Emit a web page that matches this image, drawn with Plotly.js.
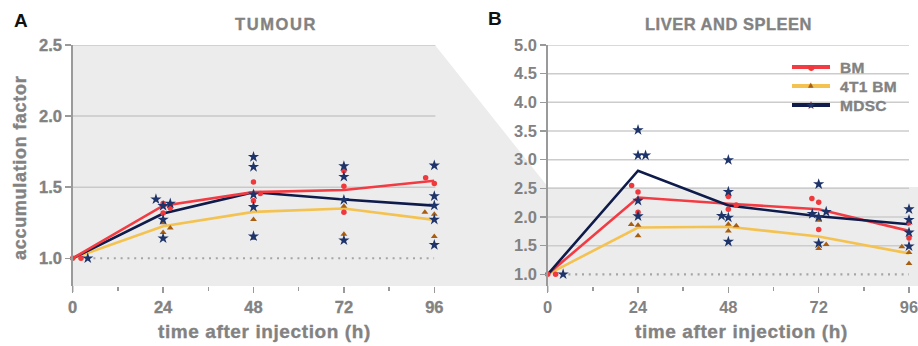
<!DOCTYPE html>
<html><head><meta charset="utf-8">
<script src="https://cdn.plot.ly/plotly-3.0.1.min.js"></script>
<style>
html,body{margin:0;padding:0;background:#fff}#chart{width:918px;height:346px}
#chart .xtick text, #chart .ytick text, #chart .xtick2 text, #chart .ytick2 text{stroke:#828282;stroke-width:0.35px}
</style>
</head><body><div id="chart"></div>
<script>
// ---------- data ----------
const hours = [0, 24, 48, 72, 96];
const xTickLabels = ['0', '24', '48', '72', '96'];
const minorHours = [12, 36, 60, 84];
const tumourYTicks = [1.0, 1.5, 2.0, 2.5];
const tumourGrid = [1.5, 2.0, 2.5];
const liverYTicks = [1.0, 1.5, 2.0, 2.5, 3.0, 3.5, 4.0, 4.5, 5.0];
const liverGrid = [1.5, 2.0, 2.5, 3.0, 3.5, 4.0, 4.5, 5.0];
const seriesNames = ['BM', '4T1 BM', 'MDSC'];

// Panel A - tumour, mean lines
const tumourMeanBM   = [1.0, 1.37, 1.465, 1.48, 1.545];
const tumourMean4T1  = [1.0, 1.225, 1.326, 1.35, 1.27];
const tumourMeanMDSC = [1.0, 1.315, 1.465, 1.413, 1.37];

// Panel A - individual points
const tumourBMx   = [0, 2.2, 24, 25.9, 24, 48, 48, 49.8, 72, 72, 72, 93.7, 96];
const tumourBMy   = [1.0, 1.0, 1.385, 1.354, 1.319, 1.537, 1.404, 1.455, 1.615, 1.507, 1.324, 1.566, 1.526];
const tumour4T1x  = [24, 24, 25.9, 48, 48, 72, 72, 93.5, 96, 96];
const tumour4T1y  = [1.249, 1.181, 1.213, 1.272, 1.139, 1.366, 1.169, 1.324, 1.31, 1.153];
const tumourMDSCx = [4, 22.1, 24, 25.9, 24, 24, 48, 48, 48, 48, 48, 72, 72, 72, 72, 96, 96, 96, 96, 96];
const tumourMDSCy = [1.0, 1.415, 1.368, 1.385, 1.272, 1.141, 1.713, 1.643, 1.449, 1.361, 1.155, 1.648, 1.573, 1.411, 1.127, 1.653, 1.437, 1.371, 1.272, 1.094];

// Panel B - liver and spleen, mean lines
const liverMeanBM   = [1.0, 2.34, 2.23, 2.136, 1.757];
const liverMean4T1  = [1.0, 1.816, 1.83, 1.66, 1.365];
const liverMeanMDSC = [1.0, 2.806, 2.2, 2.014, 1.874];

// Panel B - individual points
const liverBMx   = [0, 2.1, 22.3, 24, 24, 48, 48, 50.1, 70.2, 72, 72, 96, 96];
const liverBMy   = [1.0, 1.0, 2.55, 2.434, 2.084, 2.358, 2.136, 2.21, 2.323, 2.259, 1.78, 1.90, 1.635];
const liver4T1x  = [22.2, 24, 24, 48, 48, 50.1, 72, 72, 74, 94.1, 96, 96];
const liver4T1y  = [1.868, 1.857, 1.674, 1.874, 1.756, 1.845, 1.944, 1.45, 1.52, 1.48, 1.38, 1.19];
const liverMDSCx = [4.1, 24, 24, 26, 24, 24, 48, 48, 46.2, 48, 48, 72, 70.3, 72, 74, 72, 96, 96, 96, 96];
const liverMDSCy = [1.0, 3.517, 3.075, 3.075, 2.284, 2.014, 2.993, 2.44, 2.02, 1.99, 1.57, 2.573, 2.054, 2.0, 2.09, 1.54, 2.136, 1.95, 1.73, 1.49];

// ---------- styling ----------
const FONT = 'Liberation Sans, Arial, sans-serif';
const GREY_TXT = '#828282';
const AX = '#9a9a9a';
const RED = '#f23b43', RED_PT = '#f0393c';
const YEL = '#f4c250', YEL_PT = '#a85e10';
const NAV = '#0f1c4b', NAV_PT = '#1d3369';
const W = 918, H = 346;
const px = x => x / W, py = y => (H - y) / H;
const bold = s => '<b>' + s + '</b>';
const heavy = (s, ls) => '<b><span style="letter-spacing:' + ls + 'px;stroke:' + GREY_TXT + ';stroke-width:0.35px">' + s + '</span></b>';

const lineStyles = [
  {color: RED, width: 2.6},
  {color: YEL, width: 2.6},
  {color: NAV, width: 2.6}
];
const markerStyles = [
  {symbol: 'circle', size: 5.5, color: RED_PT},
  {symbol: 'triangle-up', size: 6, color: YEL_PT},
  {symbol: 'star', size: 8.5, color: NAV_PT}
];

function meanTrace(y, i, xa, ya) {
  return {x: hours, y: y, type: 'scatter', mode: 'lines', line: lineStyles[i], name: seriesNames[i],
    xaxis: xa, yaxis: ya, showlegend: false, hoverinfo: 'skip', cliponaxis: false};
}
function pointTrace(x, y, i, xa, ya) {
  return {x: x, y: y, type: 'scatter', mode: 'markers', marker: markerStyles[i], name: seriesNames[i],
    xaxis: xa, yaxis: ya, showlegend: false, hoverinfo: 'skip', cliponaxis: false};
}

const data = [
  meanTrace(tumourMean4T1, 1, 'x', 'y'),
  meanTrace(tumourMeanMDSC, 2, 'x', 'y'),
  meanTrace(tumourMeanBM, 0, 'x', 'y'),
  pointTrace(tumour4T1x, tumour4T1y, 1, 'x', 'y'),
  pointTrace(tumourBMx, tumourBMy, 0, 'x', 'y'),
  pointTrace(tumourMDSCx, tumourMDSCy, 2, 'x', 'y'),
  meanTrace(liverMean4T1, 1, 'x2', 'y2'),
  meanTrace(liverMeanBM, 0, 'x2', 'y2'),
  meanTrace(liverMeanMDSC, 2, 'x2', 'y2'),
  pointTrace(liver4T1x, liver4T1y, 1, 'x2', 'y2'),
  pointTrace(liverBMx, liverBMy, 0, 'x2', 'y2'),
  pointTrace(liverMDSCx, liverMDSCy, 2, 'x2', 'y2')
];

const tickFont = {family: FONT, size: 16.5, color: GREY_TXT};
function xAxis(domain, yanchor) {
  return {domain: domain, range: [0, 96], anchor: yanchor, tickmode: 'array', tickvals: hours, ticktext: xTickLabels.map(bold),
    ticks: 'outside', ticklen: 6, tickwidth: 1.5, tickcolor: AX, showline: false, showgrid: false, zeroline: false,
    minor: {tickmode: 'array', tickvals: minorHours, ticks: 'outside', ticklen: 4, tickwidth: 1.5, tickcolor: AX, showgrid: false},
    tickfont: tickFont, ticklabeloverflow: 'allow', fixedrange: true};
}
function yAxis(range, ticks, xanchor) {
  return {domain: [60 / H, 301 / H], range: range, anchor: xanchor, tickmode: 'array', tickvals: ticks,
    ticktext: ticks.map(v => bold(v.toFixed(1))), ticks: 'outside', ticklen: 6, tickwidth: 1.5, tickcolor: AX,
    showline: true, linecolor: AX, linewidth: 1.5, showgrid: false, zeroline: false,
    tickfont: tickFont, ticklabeloverflow: 'allow', fixedrange: true};
}

const shapes = [];
// shaded zoom region
shapes.push({type: 'path', xref: 'paper', yref: 'paper', layer: 'below', line: {width: 0}, fillcolor: '#ececec',
  path: `M ${px(72.7)},${py(45)} L ${px(435)},${py(45)} L ${px(548)},${py(187)} L ${px(918)},${py(187)} L ${px(918)},${py(286)} L ${px(72.7)},${py(286)} Z`});
tumourGrid.forEach(v => shapes.push({type: 'line', xref: 'x domain', yref: 'y', x0: 0, x1: 1.003, y0: v, y1: v, layer: 'below', line: {color: '#c9c9c9', width: 1.5}}));
liverGrid.forEach(v => shapes.push({type: 'line', xref: 'x2 domain', yref: 'y2', x0: 0, x1: 1, y0: v, y1: v, layer: 'below', line: {color: '#cccccc', width: 1.5}}));
// dotted reference line at 1.0
shapes.push({type: 'line', xref: 'x', yref: 'y', x0: 5.5, x1: 96, y0: 1, y1: 1, layer: 'below', line: {color: '#a5a5a5', width: 2.2, dash: '2px,4.8px'}});
shapes.push({type: 'line', xref: 'x2', yref: 'y2', x0: 5.5, x1: 96, y0: 1, y1: 1, layer: 'below', line: {color: '#a5a5a5', width: 2.2, dash: '2px,4.8px'}});
// y-axis line extension below the plot
shapes.push({type: 'line', xref: 'paper', yref: 'paper', x0: px(72.7), x1: px(72.7), y0: py(286), y1: py(292), line: {color: AX, width: 1.5}});
shapes.push({type: 'line', xref: 'paper', yref: 'paper', x0: px(547.7), x1: px(547.7), y0: py(286), y1: py(292), line: {color: AX, width: 1.5}});

const ann = (text, x, y, size, color, extra) => Object.assign({text: text, xref: 'paper', yref: 'paper', x: px(x), y: py(y),
  xanchor: 'center', yanchor: 'middle', showarrow: false, font: {family: FONT, size: size, color: color}}, extra || {});

const annotations = [
  ann(bold('A'), 20.5, 20.5, 19, '#111111'),
  ann(bold('B'), 495, 19, 19, '#111111'),
  ann(heavy('TUMOUR', 1.6), 276, 24, 16.5, GREY_TXT),
  ann(heavy('LIVER AND SPLEEN', 0.5), 728, 24, 16.5, GREY_TXT),
  ann(heavy('accumulation factor', 0.7), 20, 168, 18, GREY_TXT, {textangle: -90}),
  ann(heavy('time after injection (h)', 0.6), 264, 331, 19, GREY_TXT),
  ann(heavy('time after injection (h)', 0.6), 741, 331, 19, GREY_TXT)
];

// manual legend (line segment + symbol + label)
const legendRows = [67, 86, 105];
const legendGlyphs = ['●', '▲', '★'];
const legendGlyphSize = [8, 7, 11];
const legendGlyphColor = [RED_PT, YEL_PT, NAV_PT];
seriesNames.forEach((name, i) => {
  const yy = legendRows[i];
  shapes.push({type: 'line', xref: 'paper', yref: 'paper', x0: px(792), x1: px(830), y0: py(yy), y1: py(yy),
    line: {color: lineStyles[i].color, width: 4}});
  annotations.push({text: legendGlyphs[i], xref: 'paper', yref: 'paper', x: px(811), y: py(yy + (i === 1 ? -1 : 0)),
    xanchor: 'center', yanchor: 'middle', showarrow: false,
    font: {family: 'DejaVu Sans, sans-serif', size: legendGlyphSize[i], color: legendGlyphColor[i]}});
  annotations.push({text: heavy(name, 0.3), xref: 'paper', yref: 'paper', x: px(838), y: py(yy), xanchor: 'left', yanchor: 'middle',
    showarrow: false, font: {family: FONT, size: 15.5, color: GREY_TXT}});
});

const layout = {
  width: W, height: H, margin: {l: 0, r: 0, t: 0, b: 0},
  paper_bgcolor: '#ffffff', plot_bgcolor: 'rgba(0,0,0,0)',
  showlegend: false,
  xaxis: xAxis([72.7 / W, 434.3 / W], 'y'),
  yaxis: yAxis([0.805, 2.5], tumourYTicks, 'x'),
  xaxis2: xAxis([547.7 / W, 909 / W], 'y2'),
  yaxis2: yAxis([0.796, 5.0], liverYTicks, 'x2'),
  shapes: shapes,
  annotations: annotations
};

Plotly.newPlot('chart', data, layout, {displayModeBar: false, staticPlot: true});
</script></body></html>
